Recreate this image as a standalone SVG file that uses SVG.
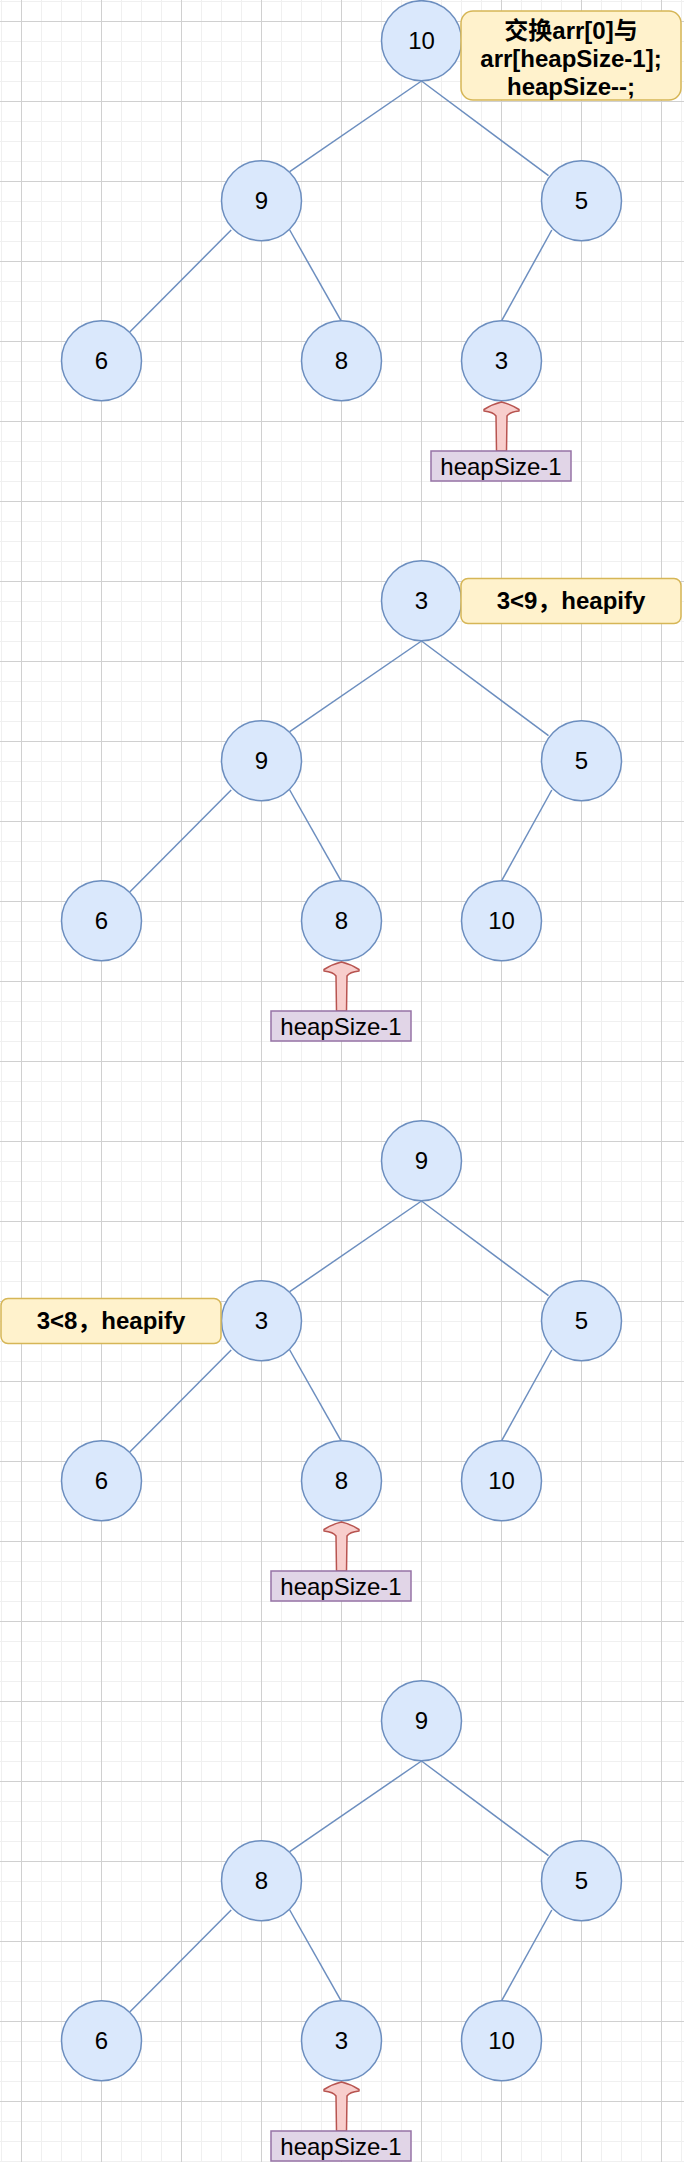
<svg xmlns="http://www.w3.org/2000/svg" width="684" height="2162" viewBox="0 0 684 2162">
<defs>
<pattern id="grid" patternUnits="userSpaceOnUse" x="21" y="21" width="80" height="80">
<rect x="0" y="0" width="80" height="80" fill="#ffffff"/>
<rect x="20" y="0" width="1" height="80" fill="#f0f0f0"/>
<rect x="40" y="0" width="1" height="80" fill="#f0f0f0"/>
<rect x="60" y="0" width="1" height="80" fill="#f0f0f0"/>
<rect x="0" y="20" width="80" height="1" fill="#f0f0f0"/>
<rect x="0" y="40" width="80" height="1" fill="#f0f0f0"/>
<rect x="0" y="60" width="80" height="1" fill="#f0f0f0"/>
<rect x="0" y="0" width="1" height="80" fill="#d0d0d0"/>
<rect x="0" y="0" width="80" height="1" fill="#d0d0d0"/>
</pattern>
<path id="harrow" d="M 0 -49 Q 9 -47 17.5 -41.5 L 17.5 -40 Q 8 -39 5.5 -35 L 5 0 L -5 0 L -5.5 -35 Q -8 -39 -17.5 -40 L -17.5 -41.5 Q -9 -47 0 -49 Z"/>
</defs>
<style>
.nd{fill:#dae8fc;stroke:#6c8ebf;stroke-width:1.5}
.lb{font-family:"Liberation Sans",Arial,sans-serif;font-size:24px;fill:#000;text-anchor:middle}
.note{fill:#fff2cc;stroke:#d6b656;stroke-width:1.5}
.nt{font-family:"Liberation Sans","Noto Sans CJK SC",sans-serif;font-size:24px;font-weight:bold;fill:#000;text-anchor:middle}
.hs{fill:#e1d5e7;stroke:#9673a6;stroke-width:1.5}
.ar{fill:#f8cecc;stroke:#b85450;stroke-width:1.5;stroke-linejoin:round}
.ed{stroke:#6c8ebf;stroke-width:1.5;fill:none}
</style>
<rect x="0" y="0" width="684" height="2162" fill="url(#grid)"/>

<g id="connectors">
<g transform="translate(0,0)">
<line class="ed" x1="421.5" y1="81" x2="289.7" y2="171.7"/>
<line class="ed" x1="421.5" y1="81" x2="548.5" y2="175.7"/>
<line class="ed" x1="231.2" y1="230" x2="130" y2="331.7"/>
<line class="ed" x1="289.7" y1="230" x2="341" y2="320.7"/>
<line class="ed" x1="551.8" y1="230" x2="501.7" y2="320.7"/>
</g>
<g transform="translate(0,560)">
<line class="ed" x1="421.5" y1="81" x2="289.7" y2="171.7"/>
<line class="ed" x1="421.5" y1="81" x2="548.5" y2="175.7"/>
<line class="ed" x1="231.2" y1="230" x2="130" y2="331.7"/>
<line class="ed" x1="289.7" y1="230" x2="341" y2="320.7"/>
<line class="ed" x1="551.8" y1="230" x2="501.7" y2="320.7"/>
</g>
<g transform="translate(0,1120)">
<line class="ed" x1="421.5" y1="81" x2="289.7" y2="171.7"/>
<line class="ed" x1="421.5" y1="81" x2="548.5" y2="175.7"/>
<line class="ed" x1="231.2" y1="230" x2="130" y2="331.7"/>
<line class="ed" x1="289.7" y1="230" x2="341" y2="320.7"/>
<line class="ed" x1="551.8" y1="230" x2="501.7" y2="320.7"/>
</g>
<g transform="translate(0,1680)">
<line class="ed" x1="421.5" y1="81" x2="289.7" y2="171.7"/>
<line class="ed" x1="421.5" y1="81" x2="548.5" y2="175.7"/>
<line class="ed" x1="231.2" y1="230" x2="130" y2="331.7"/>
<line class="ed" x1="289.7" y1="230" x2="341" y2="320.7"/>
<line class="ed" x1="551.8" y1="230" x2="501.7" y2="320.7"/>
</g>
</g>

<!-- Section 1 -->
<g id="s1-root"><circle class="nd" cx="421.5" cy="40.7" r="40"/><text class="lb" x="421.5" y="49.3">10</text></g>
<g id="s1-n9"><circle class="nd" cx="261.5" cy="200.7" r="40"/><text class="lb" x="261.5" y="209.3">9</text></g>
<g id="s1-n5"><circle class="nd" cx="581.5" cy="200.7" r="40"/><text class="lb" x="581.5" y="209.3">5</text></g>
<g id="s1-n6"><circle class="nd" cx="101.5" cy="360.7" r="40"/><text class="lb" x="101.5" y="369.3">6</text></g>
<g id="s1-n8"><circle class="nd" cx="341.5" cy="360.7" r="40"/><text class="lb" x="341.5" y="369.3">8</text></g>
<g id="s1-n3"><circle class="nd" cx="501.5" cy="360.7" r="40"/><text class="lb" x="501.5" y="369.3">3</text></g>
<g id="s1-note"><rect class="note" x="461" y="11" width="220" height="89" rx="12"/>
<text class="nt" x="571" y="38.5">交换arr[0]与</text>
<text class="nt" x="571" y="66.5">arr[heapSize-1];</text>
<text class="nt" x="571" y="94.5">heapSize--;</text></g>
<g id="s1-arrow"><use href="#harrow" class="ar" transform="translate(501.5,451)"/></g>
<g id="s1-heap"><rect class="hs" x="431" y="451" width="140" height="30"/><text class="lb" x="501" y="475">heapSize-1</text></g>

<!-- Section 2 -->
<g id="s2-root"><circle class="nd" cx="421.5" cy="600.7" r="40"/><text class="lb" x="421.5" y="609.3">3</text></g>
<g id="s2-n9"><circle class="nd" cx="261.5" cy="760.7" r="40"/><text class="lb" x="261.5" y="769.3">9</text></g>
<g id="s2-n5"><circle class="nd" cx="581.5" cy="760.7" r="40"/><text class="lb" x="581.5" y="769.3">5</text></g>
<g id="s2-n6"><circle class="nd" cx="101.5" cy="920.7" r="40"/><text class="lb" x="101.5" y="929.3">6</text></g>
<g id="s2-n8"><circle class="nd" cx="341.5" cy="920.7" r="40"/><text class="lb" x="341.5" y="929.3">8</text></g>
<g id="s2-n10"><circle class="nd" cx="501.5" cy="920.7" r="40"/><text class="lb" x="501.5" y="929.3">10</text></g>
<g id="s2-note"><rect class="note" x="461" y="578.5" width="220" height="45" rx="7"/>
<text class="nt" x="571" y="609.3">3&lt;9，heapify</text></g>
<g id="s2-arrow"><use href="#harrow" class="ar" transform="translate(341.5,1011)"/></g>
<g id="s2-heap"><rect class="hs" x="271" y="1011" width="140" height="30"/><text class="lb" x="341" y="1035">heapSize-1</text></g>

<!-- Section 3 -->
<g id="s3-root"><circle class="nd" cx="421.5" cy="1160.7" r="40"/><text class="lb" x="421.5" y="1169.3">9</text></g>
<g id="s3-n3"><circle class="nd" cx="261.5" cy="1320.7" r="40"/><text class="lb" x="261.5" y="1329.3">3</text></g>
<g id="s3-n5"><circle class="nd" cx="581.5" cy="1320.7" r="40"/><text class="lb" x="581.5" y="1329.3">5</text></g>
<g id="s3-n6"><circle class="nd" cx="101.5" cy="1480.7" r="40"/><text class="lb" x="101.5" y="1489.3">6</text></g>
<g id="s3-n8"><circle class="nd" cx="341.5" cy="1480.7" r="40"/><text class="lb" x="341.5" y="1489.3">8</text></g>
<g id="s3-n10"><circle class="nd" cx="501.5" cy="1480.7" r="40"/><text class="lb" x="501.5" y="1489.3">10</text></g>
<g id="s3-note"><rect class="note" x="1" y="1298.5" width="220" height="45" rx="7"/>
<text class="nt" x="111" y="1329.3">3&lt;8，heapify</text></g>
<g id="s3-arrow"><use href="#harrow" class="ar" transform="translate(341.5,1571)"/></g>
<g id="s3-heap"><rect class="hs" x="271" y="1571" width="140" height="30"/><text class="lb" x="341" y="1595">heapSize-1</text></g>

<!-- Section 4 -->
<g id="s4-root"><circle class="nd" cx="421.5" cy="1720.7" r="40"/><text class="lb" x="421.5" y="1729.3">9</text></g>
<g id="s4-n8"><circle class="nd" cx="261.5" cy="1880.7" r="40"/><text class="lb" x="261.5" y="1889.3">8</text></g>
<g id="s4-n5"><circle class="nd" cx="581.5" cy="1880.7" r="40"/><text class="lb" x="581.5" y="1889.3">5</text></g>
<g id="s4-n6"><circle class="nd" cx="101.5" cy="2040.7" r="40"/><text class="lb" x="101.5" y="2049.3">6</text></g>
<g id="s4-n3"><circle class="nd" cx="341.5" cy="2040.7" r="40"/><text class="lb" x="341.5" y="2049.3">3</text></g>
<g id="s4-n10"><circle class="nd" cx="501.5" cy="2040.7" r="40"/><text class="lb" x="501.5" y="2049.3">10</text></g>
<g id="s4-arrow"><use href="#harrow" class="ar" transform="translate(341.5,2131)"/></g>
<g id="s4-heap"><rect class="hs" x="271" y="2131" width="140" height="30"/><text class="lb" x="341" y="2155">heapSize-1</text></g>
</svg>
